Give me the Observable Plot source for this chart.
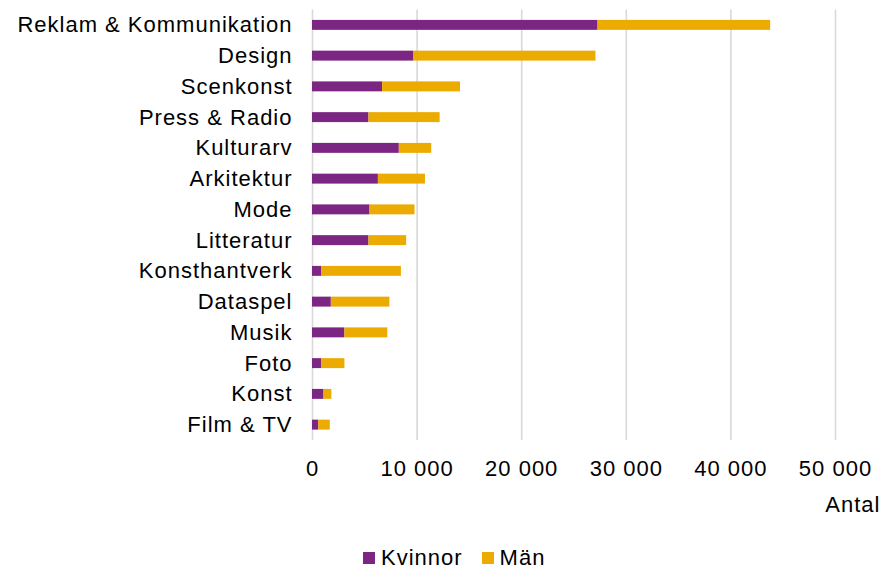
<!DOCTYPE html>
<html>
<head>
<meta charset="utf-8">
<script src="https://cdn.jsdelivr.net/npm/d3@7"></script>
<script src="https://cdn.jsdelivr.net/npm/@observablehq/plot@0.6"></script>
<style>
  html, body { margin: 0; padding: 0; background: #fff; }
  #chart { width: 891px; height: 570px; overflow: hidden; position: relative; font-family: "Liberation Sans", Arial, sans-serif; }
  .legend { display: flex; justify-content: flex-start; align-items: center; font-size: 22px; letter-spacing: 1px; color: #000; padding-left: 363px; padding-top: 7px; height: 22px; line-height: 22px; }
  .legend .item { display: flex; align-items: center; margin-right: 19px; }
  .legend .sw { width: 12px; height: 12px; display: inline-block; margin-right: 6px; }
</style>
</head>
<body>
<div id="chart"></div>
<script>
const categories = ["Reklam & Kommunikation","Design","Scenkonst","Press & Radio","Kulturarv","Arkitektur","Mode","Litteratur","Konsthantverk","Dataspel","Musik","Foto","Konst","Film & TV"];
const kvinnor = [27300, 9700, 6700, 5400, 8300, 6300, 5500, 5400, 900, 1800, 3100, 900, 1100, 600];
const man =     [16500, 17400, 7450, 6800, 3100, 4500, 4300, 3600, 7600, 5600, 4100, 2200, 750, 1100];
const seriesNames = ["Kvinnor", "Män"];
const seriesColors = ["#7a2682", "#ecab00"];
const xTicks = [0, 10000, 20000, 30000, 40000, 50000];
const axisLabel = "Antal";

const data = [];
categories.forEach((c, i) => {
  data.push({category: c, sex: seriesNames[0], value: kvinnor[i]});
  data.push({category: c, sex: seriesNames[1], value: man[i]});
});

const fmt = d => d3.format(",")(d).replace(/,/g, " ");

const plot = Plot.plot({
  width: 891,
  height: 540,
  marginLeft: 312,
  marginRight: 56,
  marginTop: 9.5,
  marginBottom: 100,
  style: {fontFamily: "'Liberation Sans', Arial, sans-serif", fontSize: "22px", color: "#000", background: "#fff", letterSpacing: "1px"},
  x: {domain: [0, 50000], ticks: xTicks, tickFormat: fmt, label: null},
  y: {domain: categories, padding: 0, round: false, label: null},
  color: {domain: seriesNames, range: seriesColors},
  marks: [
    Plot.gridX(xTicks, {stroke: "#d9d9d9", strokeWidth: 1.6, strokeOpacity: 1}),
    Plot.barX(data, Plot.stackX({x: "value", y: "category", fill: "sex", order: seriesNames, insetTop: 10.4, insetBottom: 10.4})),
    Plot.axisX({ticks: xTicks, tickFormat: fmt, tickSize: 0, tickPadding: 20, label: null, fill: "#000"}),
    Plot.axisY({tickSize: 0, tickPadding: 20, label: null, fill: "#000"}),
    Plot.text([axisLabel], {frameAnchor: "bottom-right", text: d => d, textAnchor: "end", dx: 45, dy: 71, fill: "#000"})
  ]
});

const chart = document.getElementById("chart");
chart.appendChild(plot);

const legend = document.createElement("div");
legend.className = "legend";
seriesNames.forEach((n, i) => {
  const it = document.createElement("span");
  it.className = "item";
  const sw = document.createElement("span");
  sw.className = "sw";
  sw.style.background = seriesColors[i];
  it.appendChild(sw);
  const t = document.createElement("span");
  t.textContent = n;
  it.appendChild(t);
  legend.appendChild(it);
});
chart.appendChild(legend);
</script>
</body>
</html>
